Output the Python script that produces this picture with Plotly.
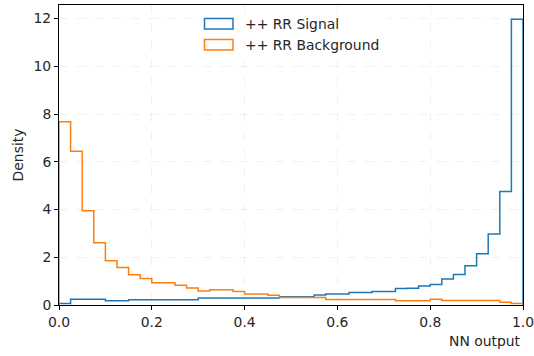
import numpy as np
import plotly.graph_objects as go

# Histogram binning: 40 equal bins on [0, 1]
bin_edges = np.linspace(0.0, 1.0, 41)

# Normalised densities per bin
signal_density = [
    0.06, 0.24, 0.24, 0.24, 0.18, 0.18, 0.22, 0.22, 0.22, 0.22,
    0.22, 0.22, 0.29, 0.29, 0.29, 0.29, 0.29, 0.29, 0.29, 0.35,
    0.35, 0.35, 0.42, 0.46, 0.46, 0.52, 0.52, 0.57, 0.57, 0.69,
    0.70, 0.80, 0.86, 1.09, 1.28, 1.64, 2.15, 2.97, 4.76, 11.97,
]
background_density = [
    7.68, 6.44, 3.95, 2.61, 1.85, 1.57, 1.27, 1.11, 0.93, 0.93,
    0.83, 0.71, 0.59, 0.64, 0.64, 0.57, 0.46, 0.46, 0.41, 0.31,
    0.31, 0.31, 0.31, 0.23, 0.23, 0.23, 0.23, 0.23, 0.23, 0.18,
    0.18, 0.18, 0.24, 0.19, 0.19, 0.19, 0.19, 0.19, 0.12, 0.06,
]

series_names = ["++ RR Signal", "++ RR Background"]
series_colors = ["#1f77b4", "#ff7f0e"]

x_ticks = [0.0, 0.2, 0.4, 0.6, 0.8, 1.0]
y_ticks = [0, 2, 4, 6, 8, 10, 12]

W, H = 534, 356
M = dict(l=59, r=11, t=5, b=51)
plot_w = W - M["l"] - M["r"]
plot_h = H - M["t"] - M["b"]

TEXT = "#262626"
FONT = "DejaVu Sans"
FS = 13.9


def step_outline(values):
    """Closed step outline of a histogram, from baseline to baseline."""
    xs = [bin_edges[0]] + list(bin_edges)
    ys = [0.0] + list(values) + [0.0]
    return xs, ys


fig = go.Figure()
for vals, name, col in zip([signal_density, background_density], series_names, series_colors):
    xs, ys = step_outline(vals)
    fig.add_trace(go.Scatter(
        x=xs, y=ys, mode="lines", name=name,
        line=dict(color=col, width=1.5, shape="hv"),
        showlegend=False,
    ))

y_max = max(max(signal_density), max(background_density)) * 1.05

axis_common = dict(
    showline=True, linecolor="#000000", linewidth=1, mirror=True,
    ticks="outside", ticklen=4, tickwidth=1, tickcolor="#000000",
    showgrid=True, gridcolor="rgba(0,0,0,0.055)", griddash="dash", gridwidth=1,
    zeroline=False, automargin=False, ticklabeloverflow="allow",
    tickfont=dict(family=FONT, size=FS, color=TEXT),
)

fig.update_xaxes(range=[0, 1], tickvals=x_ticks, tickformat=".1f", **axis_common)
fig.update_yaxes(range=[0, y_max], tickvals=y_ticks,
                 title=dict(text="Density", font=dict(family=FONT, size=FS, color=TEXT), standoff=6),
                 **axis_common)

# Legend: frame plus outlined patches and labels
def px_x(p):
    return (p - M["l"]) / plot_w


def px_y(p):
    return 1 - (p - M["t"]) / plot_h


shapes = [dict(
    type="rect", xref="paper", yref="paper",
    x0=px_x(198), x1=px_x(387), y0=px_y(57), y1=px_y(15),
    fillcolor="white", line=dict(width=0), layer="above",
)]
annotations = []
for i, (name, col) in enumerate(zip(series_names, series_colors)):
    top = 18.5 + i * 21
    shapes.append(dict(
        type="rect", xref="paper", yref="paper",
        x0=px_x(204.5), x1=px_x(233), y0=px_y(top + 10.5), y1=px_y(top),
        fillcolor="rgba(0,0,0,0)", line=dict(color=col, width=1.5), layer="above",
    ))
    annotations.append(dict(
        text=name, xref="paper", yref="paper",
        x=px_x(243), y=px_y(top + 5.5), xanchor="left", yanchor="middle",
        showarrow=False, font=dict(family=FONT, size=FS, color=TEXT),
    ))

annotations.append(dict(
    text="NN output", xref="paper", yref="paper",
    x=1.0, y=px_y(341), xanchor="right", yanchor="middle",
    showarrow=False, font=dict(family=FONT, size=FS, color=TEXT),
))

fig.update_layout(
    width=W, height=H, margin=M,
    paper_bgcolor="white", plot_bgcolor="white",
    shapes=shapes, annotations=annotations,
    font=dict(family=FONT, size=FS, color=TEXT),
)

fig.write_html("out.html")
